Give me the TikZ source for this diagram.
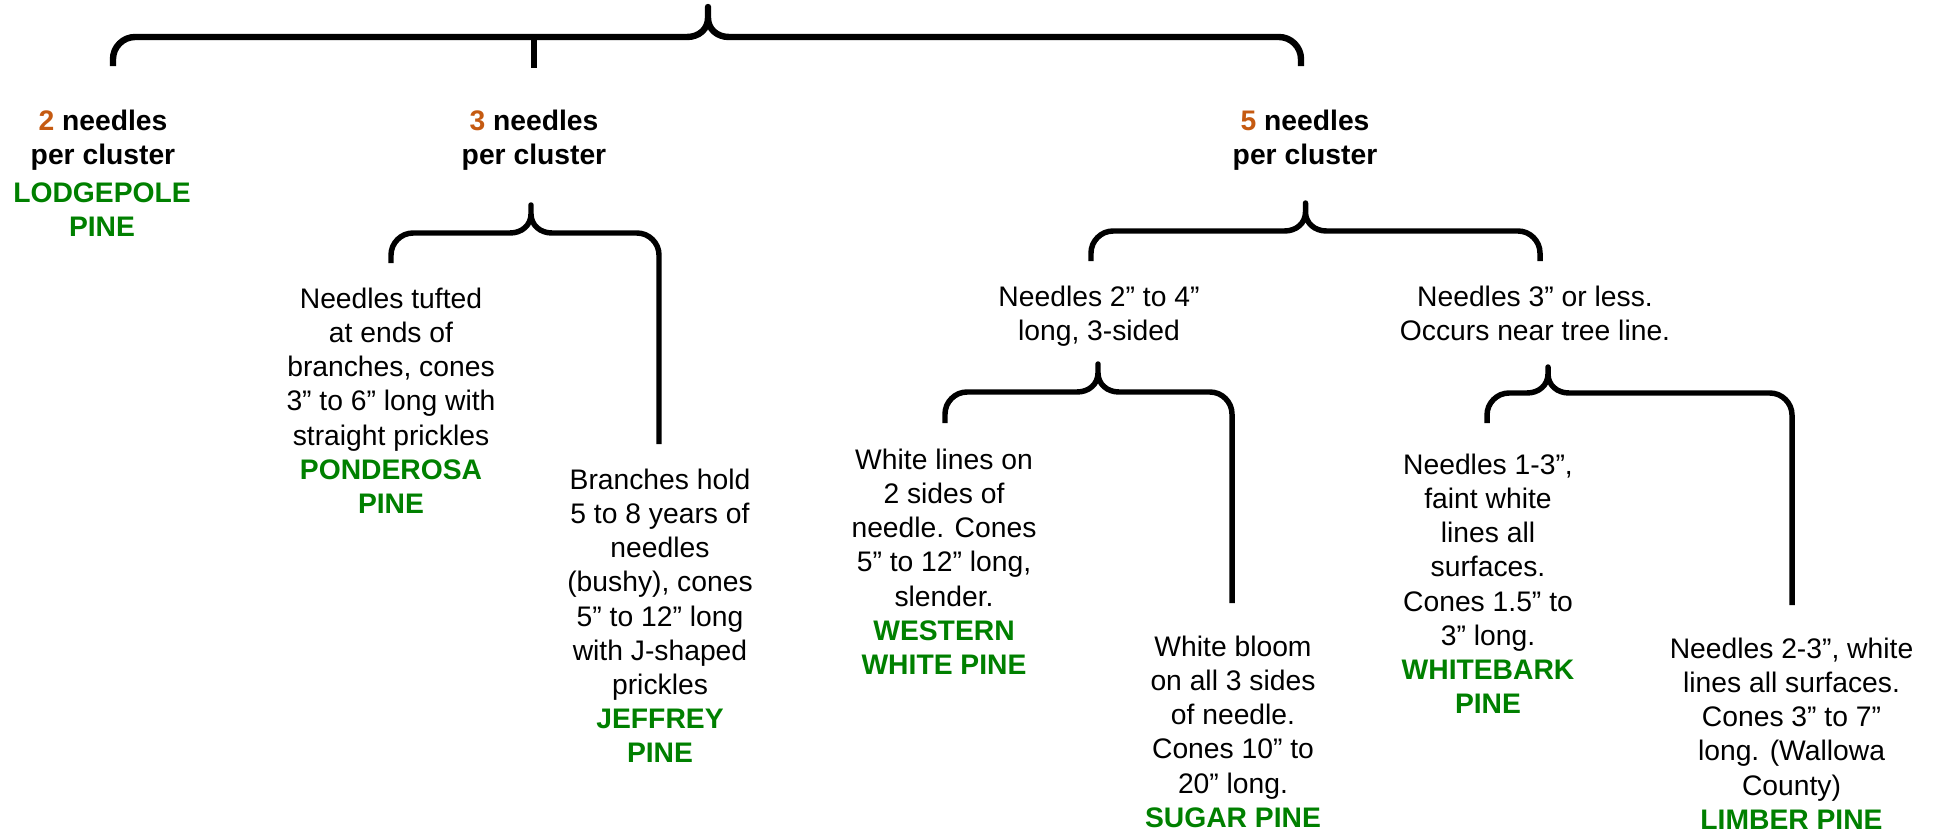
\documentclass[tikz,border=0pt]{standalone}
\usepackage{fontspec}
\setmainfont{Liberation Sans}
\definecolor{numor}{HTML}{C55A11}
\definecolor{pinegreen}{HTML}{008000}
\newcommand\pn[1]{\textcolor{pinegreen}{\bfseries #1}}
\newcommand\nm[1]{\textcolor{numor}{#1}}
% L yl H C T R yr
\newcommand\pinebrace[8]{%
  \draw[#1] ({#2},{#3}) -- ({#2},{#4+22}) .. controls ({#2},{#4+10}) and ({#2+10},{#4}) .. ({#2+22},{#4})
    -- ({#5-21},{#4}) .. controls ({#5-9},{#4}) and ({#5},{#4-8}) .. ({#5},{#4-19}) -- ({#5},{#6})
    -- ({#5},{#4-19}) .. controls ({#5},{#4-8}) and ({#5+9},{#4}) .. ({#5+21},{#4})
    -- ({#7-22},{#4}) .. controls ({#7-10},{#4}) and ({#7},{#4+10}) .. ({#7},{#4+22}) -- ({#7},{#8});}
\tikzset{
  bracestyle/.style={draw=black, line width=4.1pt, line join=round, line cap=butt},
  topbrace/.style={bracestyle, line width=4.8pt},
  txt/.style={align=center, inner sep=0pt, anchor=north, font=\fontsize{21.2}{25.65}\selectfont},
  hd/.style={txt, font=\fontsize{21.2}{25.65}\selectfont\bfseries}
}
\begin{document}
\begin{tikzpicture}[x=0.75pt,y=-0.75pt]
\useasboundingbox (0,0) rectangle (1934,835);
% braces
\pinebrace{topbrace}{113}{66}{37}{708}{7}{1301}{66}
\coordinate (tickTop) at (534,37);
\coordinate (tickBot) at (534,68);
\draw[topbrace] (tickTop) -- (tickBot);
\pinebrace{bracestyle}{391}{263}{233}{531}{205}{659}{444}
\pinebrace{bracestyle}{1091}{261}{231}{1305.5}{203}{1540}{261}
\pinebrace{bracestyle}{945}{423}{392}{1098}{364}{1232}{603}
\pinebrace{bracestyle}{1487}{423}{393}{1548}{367}{1792}{605}
% headings
\node[hd] (two) at (103,106) {\strut\nm{2} needles\\per cluster};
\node[hd, text=pinegreen] (lodge) at (102,178) {\strut LODGEPOLE\\PINE};
\node[hd] (three) at (534,106) {\strut\nm{3} needles\\per cluster};
\node[hd] (five) at (1305,106) {\strut\nm{5} needles\\per cluster};
% descriptions
\node[txt] (pond) at (391,284) {\strut Needles tufted\\at ends of\\branches, cones\\3” to 6” long with\\straight prickles\\\pn{PONDEROSA}\\\pn{PINE}};
\node[txt] (jeff) at (660,465) {\strut Branches hold\\5 to 8 years of\\needles\\(bushy), cones\\5” to 12” long\\with J-shaped\\prickles\\\pn{JEFFREY}\\\pn{PINE}};
\node[txt] (west) at (944,445) {\strut White lines on\\2 sides of\\needle. Cones\\5” to 12” long,\\slender.\\\pn{WESTERN}\\\pn{WHITE PINE}};
\node[txt] (n24) at (1099,282) {\strut Needles 2” to 4”\\long, 3-sided};
\node[txt] (n3) at (1535,282) {\strut Needles 3” or less.\\Occurs near tree line.};
\node[txt] (sugar) at (1233,632) {\strut White bloom\\on all 3 sides\\of needle.\\Cones 10” to\\20” long.\\\pn{SUGAR PINE}};
\node[txt] (whiteb) at (1488,450) {\strut Needles 1-3”,\\faint white\\lines all\\surfaces.\\Cones 1.5” to\\3” long.\\\pn{WHITEBARK}\\\pn{PINE}};
\node[txt] (limber) at (1791.5,634) {\strut Needles 2-3”, white\\lines all surfaces.\\Cones 3” to 7”\\long. (Wallowa\\County)\\\pn{LIMBER PINE}};
\end{tikzpicture}
\end{document}
